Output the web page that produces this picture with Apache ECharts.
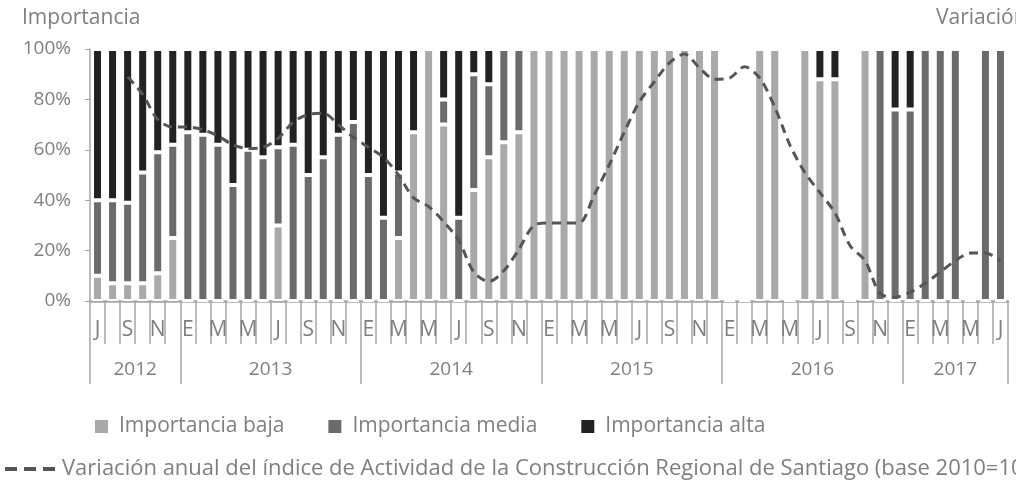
<!DOCTYPE html>
<html>
<head>
<meta charset="utf-8">
<script src="https://cdn.jsdelivr.net/npm/echarts@6/dist/echarts.min.js"></script>
<style>
html,body{margin:0;padding:0;background:#fff;overflow:hidden;}
#chart{width:1016px;height:482px;}
</style>
</head>
<body>
<div id="chart"></div>
<script>
// Months from Jul 2012 to Jul 2017 (Spanish initials)
const monthInitials = ['E','F','M','A','M','J','J','A','S','O','N','D'];
const startYear = 2012, startMonth = 6; // July (0-based)
const monthCount = 61;
const years = ['2012','2013','2014','2015','2016','2017'];

// Share of each importance level (%)
const baja = [10,7,7,7,11,25, 0,0,0,0,0,0,30,0,0,0,0,0, 0,0,25,67,100,70,0,44,57,63,67,100,
  100,100,100,100,100,100,100,100,100,100,100,100, 0,0,100,100,0,100,88,88,0,100,0,0, 0,0,0,0,0,0,0];
const media = [30,33,32,44,48,37, 67,66,62,46,60,57,31,62,50,57,66,71, 50,33,26,0,0,10,33,46,29,37,33,0,
  0,0,0,0,0,0,0,0,0,0,0,0, 0,0,0,0,0,0,0,0,0,0,100,76, 76,100,100,100,0,100,100];
const alta = [60,60,61,49,41,38, 33,34,38,54,40,43,39,38,50,43,34,29, 50,67,49,33,0,20,67,10,14,0,0,0,
  0,0,0,0,0,0,0,0,0,0,0,0, 0,0,0,0,0,0,12,12,0,0,0,24, 24,0,0,0,0,0,0];
// Annual variation of the construction activity index (position on the right scale)
const variacion = [null,null,89,82,72,69, 69,68,65.5,62,60.5,61,64.5,71,74,74.5,70,65, 61,57,50,41,37.5,31.5,24,11.5,7.7,12,20.5,30,
  31,31,31,42,54,67,79,87,94.5,98,92.5,88, 88.5,93,88.5,77,62,51,43,35,22,16,3,1.5, 3.5,7,11.5,16,19,19,16];

const months = [];
for (let i = 0; i < monthCount; i++) months.push(monthInitials[(startMonth + i) % 12]);

// Year band axis: half-month steps so year labels can sit at band centres
const halfCats = [];
const yearTicks = new Set();
const yearLabels = {};
let m0 = 0;
years.forEach((y, k) => {
  const len = Math.min(k === 0 ? 12 - startMonth : 12, monthCount - m0);
  yearTicks.add(2 * m0);
  yearLabels[m0 + len / 2] = y;
  m0 += len;
});
yearTicks.add(2 * monthCount);
for (let h = 0; h <= 2 * monthCount; h++) halfCats.push(yearLabels[h / 2] || '');

const gray = '#7f7f7f';
const axisGray = '#a6a6a6';
const font = 'Open Sans';
const lineName = 'Variación anual del índice de Actividad de la Construcción Regional de Santiago (base 2010=100)';
const chart = echarts.init(document.getElementById('chart'), null, {renderer: 'canvas'});
chart.setOption({
  animation: false,
  textStyle: {fontFamily: font},
  title: [
    {text: 'Importancia', left: 17, top: 3, textStyle: {fontSize: 21, fontWeight: 'normal', color: gray, fontFamily: font}},
    {text: 'Variación', left: 931, top: 3, textStyle: {fontSize: 21, fontWeight: 'normal', color: gray, fontFamily: font}}
  ],
  grid: {left: 90, right: 8, top: 49, bottom: 181, containLabel: false},
  legend: [
    {data: ['Importancia baja', 'Importancia media', 'Importancia alta'], left: 88, top: 411, itemGap: 42,
     itemWidth: 15, itemHeight: 15, icon: 'rect',
     textStyle: {fontSize: 21, color: gray, fontFamily: font, padding: [0, 0, 0, 5]}},
    {data: [{name: lineName,
             icon: 'path://M0,0h12v4H0z M19,0h12v4H19z M38,0h12v4H38z'}],
     left: 0, top: 453, itemWidth: 50, itemHeight: 4,
     textStyle: {fontSize: 22, color: gray, fontFamily: font, padding: [0, 0, 0, 2]}}
  ],
  xAxis: [
    {type: 'category', data: months, position: 'bottom',
     axisLine: {lineStyle: {color: axisGray, width: 2.5}},
     axisTick: {show: true, interval: 0, length: 43, lineStyle: {color: axisGray, width: 1.5}},
     axisLabel: {interval: 1, margin: 19, fontSize: 21, color: gray, fontFamily: font}},
    {type: 'category', data: halfCats, boundaryGap: false, position: 'bottom',
     axisLine: {show: false},
     axisTick: {show: true, length: 83, interval: (i) => yearTicks.has(i), lineStyle: {color: axisGray, width: 1.5}},
     axisLabel: {interval: (i, v) => v !== '', margin: 59, fontSize: 19, color: gray, fontFamily: font}}
  ],
  yAxis: [
    {type: 'value', min: 0, max: 100, interval: 20,
     axisLine: {show: true, lineStyle: {color: axisGray, width: 1.5}},
     axisTick: {show: true, length: 5, lineStyle: {color: axisGray}},
     splitLine: {show: false},
     axisLabel: {formatter: '{value}%', margin: 19, fontSize: 19, color: gray, fontFamily: font}},
    {type: 'value', min: 0, max: 100, interval: 20, position: 'right',
     axisLine: {show: false}, axisTick: {show: false}, splitLine: {show: false}, axisLabel: {show: false}}
  ],
  series: [
    {name: 'Importancia baja', type: 'bar', stack: 'imp', data: baja, barWidth: 11,
     itemStyle: {color: '#a9a9a9', borderColor: '#fff', borderWidth: 2}},
    {name: 'Importancia media', type: 'bar', stack: 'imp', data: media, barWidth: 11,
     itemStyle: {color: '#6b6b6b', borderColor: '#fff', borderWidth: 2}},
    {name: 'Importancia alta', type: 'bar', stack: 'imp', data: alta, barWidth: 11,
     itemStyle: {color: '#222222', borderColor: '#fff', borderWidth: 2}},
    {name: lineName,
     type: 'line', yAxisIndex: 1, data: variacion, smooth: 0.3, symbol: 'none', connectNulls: false,
     lineStyle: {color: '#555555', width: 3, type: [9, 6]}, itemStyle: {color: '#555555'}, z: 5}
  ]
});
</script>
</body>
</html>
